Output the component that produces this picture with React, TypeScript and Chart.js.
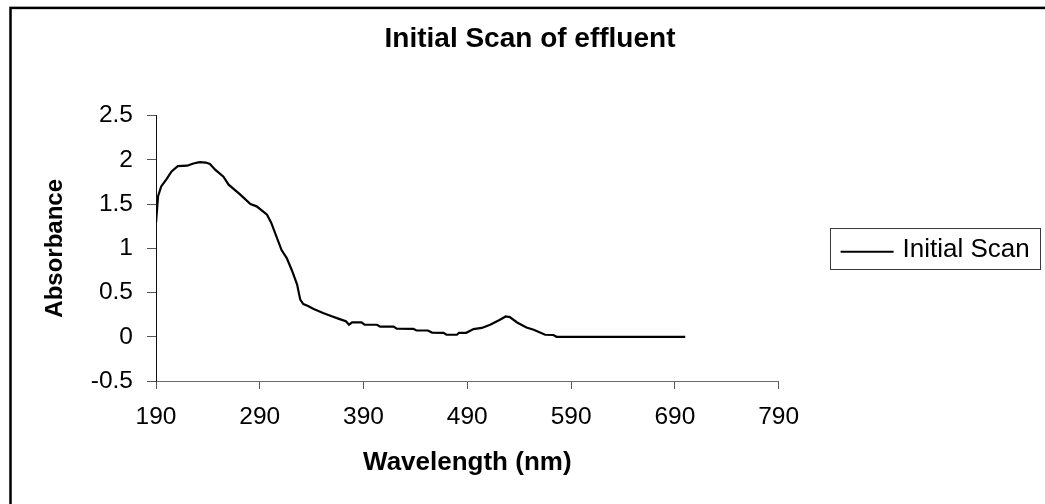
import React, { useEffect, useRef } from "react";
import { Chart, registerables } from "chart.js";

Chart.register(...registerables);

const FONT = "'Liberation Sans', Arial, Helvetica, sans-serif";

const chartTitle = "Initial Scan of effluent";
const xTitle = "Wavelength (nm)";
const yTitle = "Absorbance";
const seriesLabel = "Initial Scan";

const xTicks = [190, 290, 390, 490, 590, 690, 790];
const yTicks = [-0.5, 0, 0.5, 1, 1.5, 2, 2.5];

const wavelengths = [
  190, 192, 195, 200, 205, 211, 220, 226, 232, 238, 242, 247, 255, 260, 271,
  281, 287, 297, 301, 311, 316, 321, 326, 329, 332, 336, 342, 351, 360, 367,
  373, 376, 379, 388, 391, 403, 406, 419, 422, 438, 441, 452, 456, 467, 470,
  480, 482, 489, 496, 504, 512, 521, 527, 531, 538, 547, 554, 565, 573, 576,
  700,
];

const absorbance = [
  1.29, 1.59, 1.7, 1.78, 1.87, 1.93, 1.935, 1.96, 1.975, 1.97, 1.955, 1.89,
  1.81, 1.72, 1.61, 1.5, 1.475, 1.38, 1.29, 0.98, 0.89, 0.75, 0.59, 0.42, 0.37,
  0.35, 0.315, 0.27, 0.23, 0.2, 0.175, 0.136, 0.162, 0.162, 0.136, 0.136,
  0.115, 0.115, 0.092, 0.09, 0.071, 0.071, 0.048, 0.045, 0.023, 0.023, 0.045,
  0.045, 0.087, 0.1, 0.136, 0.19, 0.23, 0.223, 0.162, 0.105, 0.08, 0.023,
  0.02, 0, 0,
];

const W = 1045;
const H = 504;

const framePlugin = {
  id: "outerFrame",
  beforeDraw(chart: any) {
    const ctx = chart.ctx;
    ctx.save();
    ctx.fillStyle = "#ffffff";
    ctx.fillRect(0, 0, chart.width, chart.height);
    ctx.strokeStyle = "#000000";
    ctx.lineWidth = 2.5;
    ctx.strokeRect(10.5, 7.9, chart.width + 50, chart.height + 50);
    ctx.restore();
  },
};

const boxLegendPlugin = {
  id: "boxLegend",
  afterDraw(chart: any) {
    const ctx = chart.ctx;
    const area = chart.chartArea;
    const ds = chart.data.datasets[0];
    const left = area.right + 51;
    const cy = (area.top + area.bottom) / 2;
    const top = cy - 20;
    ctx.save();
    ctx.strokeStyle = "#3a3a3a";
    ctx.lineWidth = 1;
    ctx.strokeRect(Math.round(left) + 0.5, Math.round(top) + 0.5, 210, 41);
    ctx.strokeStyle = ds.borderColor;
    ctx.lineWidth = 2;
    ctx.beginPath();
    ctx.moveTo(left + 11, cy + 3.5);
    ctx.lineTo(left + 64, cy + 3.5);
    ctx.stroke();
    ctx.fillStyle = "#000000";
    ctx.font = `26px ${FONT}`;
    ctx.textBaseline = "alphabetic";
    ctx.textAlign = "left";
    ctx.fillText(ds.label, left + 73, cy + 8.5);
    ctx.restore();
  },
};

export default function App() {
  const ref = useRef<HTMLCanvasElement | null>(null);

  useEffect(() => {
    if (!ref.current) return;
    Chart.defaults.color = "#000000";
    Chart.defaults.font.family = FONT;

    const points = wavelengths.map((w, i) => ({ x: w, y: absorbance[i] }));

    const chart = new Chart(ref.current, {
      type: "line",
      data: {
        datasets: [
          {
            label: seriesLabel,
            data: points,
            borderColor: "#000000",
            backgroundColor: "#000000",
            borderWidth: 2.2,
            pointRadius: 0,
            tension: 0,
            fill: false,
          },
        ],
      },
      options: {
        animation: false,
        responsive: false,
        devicePixelRatio: 1,
        layout: { padding: { left: 15, right: 0, top: 0, bottom: 0 } },
        plugins: {
          legend: { display: false },
          tooltip: { enabled: false },
          title: {
            display: true,
            text: chartTitle,
            color: "#000000",
            font: { family: FONT, size: 28, weight: "bold" },
            padding: { top: 22.2, bottom: 59.9 },
          },
        },
        scales: {
          x: {
            type: "linear",
            position: "bottom",
            min: xTicks[0],
            max: xTicks[xTicks.length - 1],
            afterBuildTicks: (scale: any) => {
              scale.ticks = xTicks.map((v) => ({ value: v }));
            },
            afterFit: (scale: any) => {
              scale.height = 123;
            },
            ticks: {
              padding: 13.3,
              color: "#000000",
              font: { family: FONT, size: 24.5 },
              maxRotation: 0,
              autoSkip: false,
              callback: (v: any) => String(v),
            },
            grid: {
              drawOnChartArea: false,
              drawTicks: true,
              tickLength: 8,
              color: "#555555",
              lineWidth: 1,
            },
            border: { display: true, color: "#6a6a6a", width: 1 },
            title: {
              display: true,
              text: xTitle,
              color: "#000000",
              font: { family: FONT, size: 26, weight: "bold" },
              padding: { top: 0, bottom: 26 },
            },
          },
          y: {
            type: "linear",
            position: "left",
            min: yTicks[0],
            max: yTicks[yTicks.length - 1],
            afterBuildTicks: (scale: any) => {
              scale.ticks = yTicks.map((v) => ({ value: v }));
            },
            afterFit: (scale: any) => {
              scale.width = 141;
            },
            ticks: {
              padding: 14,
              color: "#000000",
              font: { family: FONT, size: 24.5 },
              autoSkip: false,
              callback: (v: any) => String(v),
            },
            grid: {
              drawOnChartArea: false,
              drawTicks: true,
              tickLength: 9,
              color: "#555555",
              lineWidth: 1,
            },
            border: { display: true, color: "#111111", width: 1 },
            title: {
              display: true,
              text: yTitle,
              color: "#000000",
              font: { family: FONT, size: 24, weight: "bold" },
              padding: { top: 26, bottom: 0 },
            },
          },
          legendSpace: {
            type: "linear",
            position: "right",
            display: true,
            afterFit: (scale: any) => {
              scale.width = 266.4;
            },
            ticks: { display: false },
            grid: { display: false, drawTicks: false },
            border: { display: false },
            title: { display: false },
          },
        },
      },
      plugins: [framePlugin, boxLegendPlugin],
    } as any);

    return () => {
      chart.destroy();
    };
  }, []);

  return (
    <div style={{ position: "absolute", left: 0, top: 0, width: W, height: H, background: "#fff" }}>
      <canvas ref={ref} width={W} height={H} style={{ display: "block" }} />
    </div>
  );
}
